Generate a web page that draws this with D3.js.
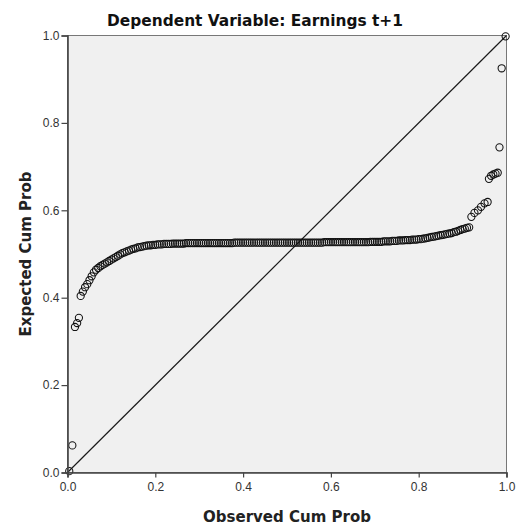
<!DOCTYPE html>
<html><head><meta charset="utf-8">
<script src="https://cdn.jsdelivr.net/npm/d3@7"></script>
<style>
html,body{margin:0;padding:0;background:#fff;}
svg{display:block;font-family:"Liberation Sans",Arial,sans-serif;}
</style></head>
<body>
<svg id="chart" width="517" height="527"></svg>
<script>
const titleText = "Dependent Variable: Earnings t+1";
const xTitle = "Observed Cum Prob";
const yTitle = "Expected Cum Prob";
const tickValues = [0, 0.2, 0.4, 0.6, 0.8, 1.0];
const refLine = [[0, 0], [1, 1]];

const observed = [
0.004,0.011,0.017,0.022,0.026,
0.030,0.035,0.040,0.045,0.050,0.055,0.060,0.065,0.070,0.075,0.080,0.085,0.090,0.095,0.100,
0.105,0.110,0.115,0.120,0.125,0.130,0.135,0.140,0.145,0.150,0.155,0.160,0.165,0.170,0.175,
0.180,0.185,0.190,0.195,0.200,0.205,0.210,0.215,0.220,0.225,0.230,0.235,0.240,0.245,0.250,
0.255,0.260,0.265,0.270,0.275,0.280,0.285,0.290,0.295,0.300,0.305,0.310,0.315,0.320,0.325,
0.330,0.335,0.340,0.345,0.350,0.355,0.360,0.365,0.370,0.375,0.380,0.385,0.390,0.395,0.400,
0.405,0.410,0.415,0.420,0.425,0.430,0.435,0.440,0.445,0.450,0.455,0.460,0.465,0.470,0.475,
0.480,0.485,0.490,0.495,0.500,0.505,0.510,0.515,0.520,0.525,0.530,0.535,0.540,0.545,0.550,
0.555,0.560,0.565,0.570,0.575,0.580,0.585,0.590,0.595,0.600,0.605,0.610,0.615,0.620,0.625,
0.630,0.635,0.640,0.645,0.650,0.655,0.660,0.665,0.670,0.675,0.680,0.685,0.690,0.695,0.700,
0.705,0.710,0.715,0.720,0.725,0.730,0.735,0.740,0.745,0.750,0.755,0.760,0.765,0.770,0.775,
0.780,0.785,0.790,0.795,0.800,0.805,0.810,0.815,0.820,0.825,0.830,0.835,0.840,0.845,0.850,
0.855,0.860,0.865,0.870,0.875,0.880,0.885,0.890,0.895,0.900,0.905,0.910,0.915,
0.920,0.927,0.935,0.942,0.950,0.957,
0.960,0.965,0.970,0.975,0.980,
0.984,0.989,0.998
];
const expected = [
0.003,0.062,0.333,0.342,0.354,
0.404,0.414,0.424,0.431,0.440,0.449,0.458,0.464,0.468,0.472,0.475,0.478,0.481,0.484,0.487,
0.490,0.493,0.496,0.499,0.502,0.504,0.506,0.508,0.510,0.512,0.513,0.515,0.516,0.517,0.518,
0.519,0.520,0.520,0.521,0.521,0.522,0.522,0.522,0.523,0.523,0.523,0.523,0.524,0.524,0.524,
0.524,0.524,0.524,0.525,0.525,0.525,0.525,0.525,0.525,0.525,0.525,0.525,0.525,0.525,0.525,
0.525,0.525,0.525,0.525,0.525,0.525,0.525,0.525,0.525,0.525,0.526,0.526,0.526,0.526,0.526,
0.526,0.526,0.526,0.526,0.526,0.526,0.526,0.526,0.526,0.526,0.526,0.526,0.526,0.526,0.526,
0.526,0.526,0.526,0.526,0.526,0.526,0.526,0.526,0.526,0.526,0.526,0.526,0.526,0.526,0.526,
0.526,0.526,0.526,0.526,0.526,0.526,0.527,0.527,0.527,0.527,0.527,0.527,0.527,0.527,0.527,
0.527,0.527,0.527,0.527,0.527,0.527,0.527,0.527,0.527,0.527,0.527,0.527,0.528,0.528,0.528,
0.528,0.528,0.528,0.529,0.529,0.529,0.529,0.530,0.530,0.530,0.531,0.531,0.531,0.532,0.532,
0.532,0.533,0.533,0.533,0.534,0.534,0.535,0.536,0.537,0.538,0.539,0.540,0.541,0.542,0.543,
0.544,0.545,0.546,0.547,0.548,0.550,0.551,0.553,0.555,0.557,0.558,0.560,0.561,
0.585,0.594,0.600,0.608,0.616,0.619,
0.672,0.679,0.682,0.684,0.686,
0.744,0.925,0.998
];

const svg = d3.select("#chart");
const padL = 67.5, padR = 506.5, padT = 35.5, padB = 472.5;
const x = d3.scaleLinear().domain([0, 1]).range([padL, padR]);
const y = d3.scaleLinear().domain([0, 1]).range([padB, padT]);

// plot background
svg.append("rect").attr("x", padL).attr("y", padT)
  .attr("width", padR - padL).attr("height", padB - padT)
  .attr("fill", "#f0f0f0").attr("stroke", "#777").attr("stroke-width", 1);

// reference diagonal
svg.append("path").datum(refLine)
  .attr("d", d3.line().x(d => x(d[0])).y(d => y(d[1])))
  .attr("stroke", "#1a1a1a").attr("stroke-width", 1.2).attr("fill", "none");

// points
const pts = observed.map((o, i) => ({o, e: expected[i]}));
svg.append("g").selectAll("circle").data(pts).join("circle")
  .attr("cx", d => x(d.o)).attr("cy", d => y(d.e)).attr("r", 3.6)
  .attr("fill", "none").attr("stroke", "#111").attr("stroke-width", 1.05);

// axes
const fmt = d3.format(".1f");
const xAxis = svg.append("g").attr("transform", `translate(0,${padB})`)
  .call(d3.axisBottom(x).tickValues(tickValues).tickFormat(fmt).tickSize(5).tickPadding(5));
const yAxis = svg.append("g").attr("transform", `translate(${padL},0)`)
  .call(d3.axisLeft(y).tickValues(tickValues).tickFormat(fmt).tickSize(6).tickPadding(2));
[xAxis, yAxis].forEach(g => {
  g.select(".domain").attr("stroke", "#444").attr("stroke-width", 1.6);
  g.selectAll(".tick line").attr("stroke", "#444").attr("stroke-width", 1.2);
  g.selectAll(".tick text").attr("fill", "#333").style("font-size", "12px")
    .style("font-family", "'Liberation Sans', Arial, sans-serif");
});

// titles
svg.append("text").attr("x", 255).attr("y", 26).attr("text-anchor", "middle")
  .style("font-family", "'DejaVu Sans', sans-serif")
  .style("font-size", "15.4px").style("font-weight", "bold").attr("fill", "#111")
  .text(titleText);
svg.append("text").attr("x", (padL + padR) / 2).attr("y", 522).attr("text-anchor", "middle")
  .style("font-family", "'DejaVu Sans', sans-serif")
  .style("font-size", "15px").style("font-weight", "bold").attr("fill", "#222")
  .text(xTitle);
svg.append("text").attr("transform", `translate(31,${(padT + padB) / 2}) rotate(-90)`)
  .attr("text-anchor", "middle")
  .style("font-family", "'DejaVu Sans', sans-serif")
  .style("font-size", "15px").style("font-weight", "bold").attr("fill", "#222")
  .text(yTitle);
</script>
</body></html>
